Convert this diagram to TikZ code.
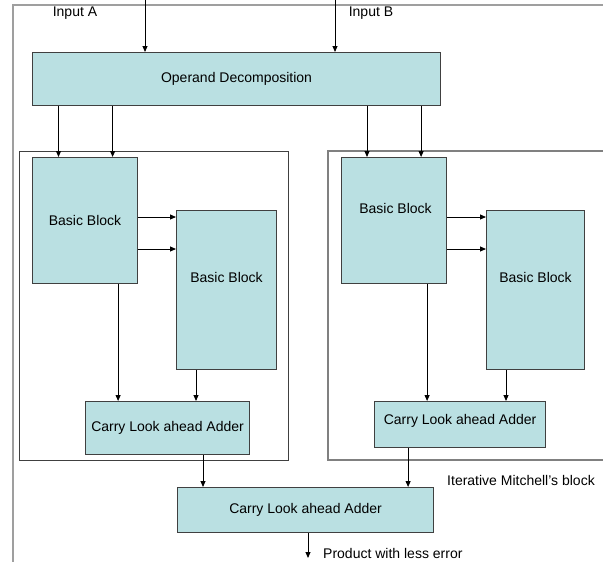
\documentclass[tikz,border=0pt]{standalone}
\usepackage{fontspec}
\setmainfont{Liberation Sans}
\usetikzlibrary{arrows.meta}
\definecolor{blkfill}{RGB}{186,224,226}
\definecolor{blkline}{RGB}{64,64,64}

\begin{document}
\begin{tikzpicture}[x=1pt,y=-1pt,
  blk/.style={draw=blkline,fill=blkfill,line width=1.1pt,anchor=north west,inner sep=0pt},
  arr/.style={-{Triangle[length=6pt,width=5pt]},line width=0.9pt},
  lbl/.style={inner sep=0pt},
  font=\fontsize{14}{16}\selectfont]
\useasboundingbox (0,0) rectangle (603,562);
% frames
\draw[gray!75,line width=1.6pt] (13,562) -- (13,5) -- (603,5);
\draw[blkline,line width=0.9pt] (19,151) rectangle (288,460);
\draw[gray,line width=1.1pt] (603,151) -- (328,151) -- (328,460) -- (603,460);
% blocks
\node[blk,minimum width=408pt,minimum height=53pt] (od) at (32,52) {Operand Decomposition};
\node[blk,minimum width=105pt,minimum height=126pt] (lbb1) at (32,157) {Basic Block};
\node[blk,minimum width=100pt,minimum height=159pt] (lbb2) at (176,210) {};
\node[blk,minimum width=164pt,minimum height=53pt] (lcla) at (85,401) {Carry Look ahead Adder};
\node[blk,minimum width=105pt,minimum height=126pt] (rbb1) at (341,157) {};
\node[blk,minimum width=98pt,minimum height=159pt] (rbb2) at (486,210) {};
\node[blk,minimum width=171pt,minimum height=46pt] (rcla) at (374,401) {};
\node[blk,minimum width=256pt,minimum height=45pt] (fcla) at (177,487) {Carry Look ahead Adder};
\node[lbl] (lbb2t) at ([yshift=12.5pt]lbb2.center) {Basic Block};
\node[lbl] (rbb1t) at ([xshift=1.5pt,yshift=12pt]rbb1.center) {Basic Block};
\node[lbl] (rbb2t) at ([yshift=12.5pt]rbb2.center) {Basic Block};
\node[lbl] (rclat) at ([yshift=3.5pt]rcla.center) {Carry Look ahead Adder};
% labels
\node[lbl] (ina_t) at (75,13) {Input A};
\node[lbl] (inb_t) at (371,13) {Input B};
\node[lbl] (itm) at (521,480) {Iterative Mitchell’s block};
\node[lbl,anchor=west] (prod) at (323,553) {Product with less error};
\coordinate (ina) at (145,0);
\coordinate (inb) at (335,0);
\coordinate (out) at (308,558);
% connectors
\draw[arr] (ina) -- (ina |- od.north);
\draw[arr] (inb) -- (inb |- od.north);
\draw[arr] ([xshift=26.5pt]lbb1.north west |- od.south) -- ([xshift=26.5pt]lbb1.north west);
\draw[arr] ([xshift=-25.5pt]lbb1.north east |- od.south) -- ([xshift=-25.5pt]lbb1.north east);
\draw[arr] ([xshift=26pt]rbb1.north west |- od.south) -- ([xshift=26pt]rbb1.north west);
\draw[arr] ([xshift=-26pt]rbb1.north east |- od.south) -- ([xshift=-26pt]rbb1.north east);
\draw[arr] ([yshift=-7pt]lbb2.north west -| lbb1.east) -- ([yshift=-7pt]lbb2.north west);
\draw[arr] ([yshift=-39pt]lbb2.north west -| lbb1.east) -- ([yshift=-39pt]lbb2.north west);
\draw[arr] ([yshift=-7pt]rbb2.north west -| rbb1.east) -- ([yshift=-7pt]rbb2.north west);
\draw[arr] ([yshift=-39pt]rbb2.north west -| rbb1.east) -- ([yshift=-39pt]rbb2.north west);
\draw[arr] ([xshift=-20pt]lbb1.south east) -- ([xshift=-20pt]lbb1.south east |- lcla.north);
\draw[arr] ([xshift=20pt]lbb2.south west) -- ([xshift=20pt]lbb2.south west |- lcla.north);
\draw[arr] ([xshift=-20pt]rbb1.south east) -- ([xshift=-20pt]rbb1.south east |- rcla.north);
\draw[arr] ([xshift=20pt]rbb2.south west) -- ([xshift=20pt]rbb2.south west |- rcla.north);
\draw[arr] ([xshift=26pt]fcla.north west |- lcla.south) -- ([xshift=26pt]fcla.north west);
\draw[arr] ([xshift=-26pt]fcla.north east |- rcla.south) -- ([xshift=-26pt]fcla.north east);
\draw[arr] (out |- fcla.south) -- (out);
\end{tikzpicture}
\end{document}
